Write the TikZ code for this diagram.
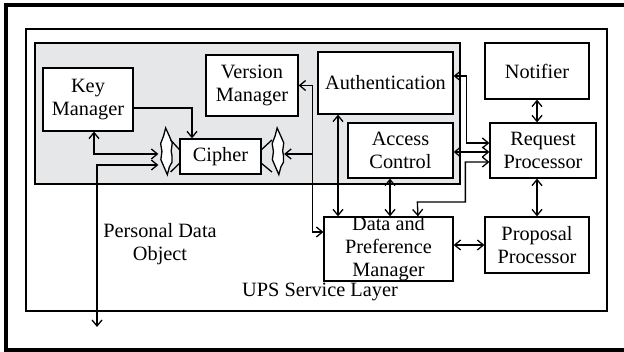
\documentclass[tikz,border=0pt]{standalone}
\usepackage{fontspec}
\setmainfont{Liberation Serif}
\usetikzlibrary{arrows.meta,calc,shapes.geometric,decorations.pathmorphing}
\definecolor{layergray}{HTML}{E6E7E9}
\begin{document}
\begin{tikzpicture}[x=1pt,y=-1pt,
  font=\fontsize{20.3}{23}\selectfont,
  box/.style={draw, line width=1.3pt, fill=white, inner sep=0pt, align=center},
  lbl/.style={inner sep=0pt, align=center},
  link/.style={line width=1.3pt, >={Straight Barb[length=6pt,width=10pt]}},
  lens/.style={ellipse, draw, line width=1.3pt, fill=white, minimum width=13pt,
    minimum height=44pt, inner sep=0pt, decorate,
    decoration={snake, amplitude=0.8pt, segment length=16pt}},
]
\useasboundingbox (0,0) rectangle (624,352);

% outer frame (runs past the right edge)
\draw[line width=4pt] (5.5,5) rectangle (640,350);

% service layer and the shaded core
\draw[line width=1.3pt] (26,29) rectangle (607,311);
\draw[line width=1.3pt, fill=layergray] (35,43) rectangle (460,184);

% components
\node[box, minimum width=90pt, minimum height=63pt] (km) at (88,99.5) {Key\\Manager};
\node[box, minimum width=92pt, minimum height=61pt] (vm) at (252,85.5) {Version\\Manager};
\node[box, minimum width=81pt, minimum height=35pt] (ciph) at (220.5,156.5) {Cipher};
\node[box, minimum width=135pt, minimum height=62pt] (auth) at (385.5,83) {Authentication};
\node[box, minimum width=105pt, minimum height=55pt] (ac) at (400.5,150.5) {Access\\Control};
\node[box, minimum width=104pt, minimum height=56pt] (notif) at (537,71) {Notifier};
\node[box, minimum width=106pt, minimum height=55pt] (rp) at (543,150.5) {Request\\Processor};
\node[box, minimum width=104pt, minimum height=56pt] (pp) at (537,245) {Proposal\\Processor};
\node[box, minimum width=129pt, minimum height=64pt] (dpm) at (388.5,249) {};
\node[lbl] at (dpm.center) {Data and\\Preference\\Manager};

% cipher ports
\node[lens] (lcl) at (165.5,156) {};
\node[lens] (rcl) at (277,156) {};
\draw[line width=1.3pt] ([yshift=7pt]ciph.west) -- (lcl.north east)
  ([yshift=-7pt]ciph.west) -- (lcl.south east);
\draw[line width=1.3pt] ([yshift=7pt]ciph.east) -- (rcl.north west)
  ([yshift=-7pt]ciph.east) -- (rcl.south west);

% labels
\node[lbl] (pdo label) at (160,244) {Personal Data\\Object};
\node[lbl] (ups label) at (320,292) {UPS Service Layer};
\coordinate (pdo) at (97,327);

% connectors
\draw[link,->] ([yshift=-8.5pt]km.east) -| ([xshift=-28.5pt]ciph.north);
\draw[link,<->] ([xshift=6pt]km.south) |- ([yshift=2pt]lcl.west);
\draw[link,<->] (pdo) |- ([yshift=-9pt]lcl.west);
\draw[link,<->] ([yshift=17pt]dpm.west) -- ++(-11,0) |- (vm.east);
\draw[link,->] ([xshift=-11pt]dpm.west |- rcl.east) ++(0,-2) -- ([yshift=2pt]rcl.east);
\draw[link,<->] ([xshift=-47.5pt]auth.south) -- ([xshift=-47.5pt]auth.south |- dpm.north);
\draw[link,<->] ([xshift=-10.5pt]ac.south) -- ([xshift=-10.5pt]ac.south |- dpm.north);
\draw[link,<->] ([yshift=7pt]auth.east) -- ++(13,0) |- ([yshift=7.5pt]rp.west);
\draw[link,<->] ([yshift=-1.5pt]ac.east) -- ([yshift=-1.5pt]rp.west);
\draw[link,<->] ([yshift=-11.5pt]rp.west) -- ++(-24,0) -- ++(0,40) -- ++(-48,0)
  -- ([xshift=29.5pt]dpm.north);
\draw[link,<->] (notif.south) -- (notif.south |- rp.north);
\draw[link,<->] (pp.north |- rp.south) -- (pp.north);
\draw[link,<->] (dpm.east |- pp.west) -- (pp.west);
\end{tikzpicture}
\end{document}
